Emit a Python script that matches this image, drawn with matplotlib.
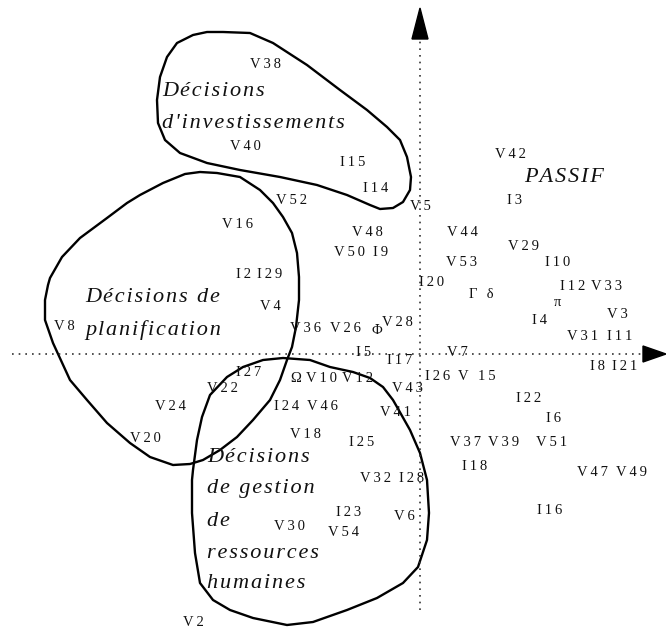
import matplotlib
matplotlib.use("Agg")
import matplotlib.pyplot as plt
from matplotlib.patches import Polygon

# point labels (positions in picture units, y downwards)
labels = ["V38", "V40", "I15", "I14", "V52", "V42", "I3", "V5",
          "V16", "V48", "V50", "I9", "I2", "I29", "V44", "V53", "V29", "I10",
          "I20", "Γ δ", "I12", "V33", "π", "V3", "I4", "V4", "V8",
          "V36", "V26", "Φ", "V28", "V31", "I11", "I5", "I17", "V7",
          "I8", "I21", "I27", "Ω", "V10", "V12", "I26", "V 15", "V22", "V43",
          "I22", "V24", "I24", "V46", "V41", "I6", "V20", "V18", "I25",
          "V37", "V39", "V51", "I18", "V47", "V49", "V32", "I28",
          "I23", "V6", "V30", "V54", "I16", "V2"]
lx = [265, 245, 353, 376, 292, 510, 515, 420,
      238, 367, 350, 381, 244, 270, 462, 462, 523, 558,
      432, 481, 573, 607, 557, 617, 540, 270, 64,
      305, 345, 377, 397, 583, 620, 364, 400, 457,
      597, 625, 249, 296, 322, 358, 438, 477, 222, 408,
      529, 170, 287, 322, 396, 553, 145, 305, 362,
      465, 504, 552, 475, 592, 632, 375, 412,
      349, 404, 289, 343, 550, 193]
ly = [65, 147, 163, 188, 200, 155, 200, 207,
      224, 232, 253, 253, 275, 275, 232, 262, 246, 262,
      283, 294, 286, 286, 303, 315, 320, 307, 327,
      328, 328, 330, 323, 336, 336, 352, 360, 352,
      367, 367, 373, 379, 379, 379, 376, 376, 389, 389,
      398, 406, 406, 406, 413, 419, 438, 434, 443,
      443, 443, 443, 467, 472, 472, 479, 479,
      512, 517, 526, 533, 510, 623]

# group names (italic)
groups = ["Décisions", "d'investissements", "Décisions de", "planification",
          "Décisions", "de gestion", "de", "ressources", "humaines", "PASSIF"]
gx = [162, 162, 85, 85, 207, 207, 207, 207, 207, 524]
gy = [92, 124, 298, 330, 457, 489, 522, 553, 584, 177]

# outlines of the three groups
invest_x = [223, 250, 273, 307, 340, 367, 387, 400, 407, 411, 410, 403, 393, 380,
            370, 347, 317, 280, 240, 207, 180, 165, 158, 157, 160, 167, 177, 193, 207]
invest_y = [32, 33, 43, 65, 90, 110, 127, 140, 157, 177, 190, 202, 208, 209,
            205, 195, 185, 177, 170, 163, 153, 140, 123, 100, 77, 57, 43, 35, 32]

plan_x = [200, 217, 240, 260, 273, 283, 292, 297, 299, 299, 296, 292, 287, 280,
          270, 253, 237, 220, 203, 190, 173, 150, 130, 107, 87, 70, 53, 45, 45,
          48, 50, 62, 80, 107, 127, 140, 163, 185]
plan_y = [172, 173, 177, 190, 203, 217, 233, 253, 277, 300, 327, 347, 360, 380,
          400, 420, 437, 450, 460, 464, 465, 457, 443, 423, 400, 380, 343, 320, 300,
          285, 278, 257, 238, 218, 203, 195, 183, 174]

rh_x = [283, 310, 330, 353, 370, 383, 393, 397, 410, 420, 427, 429, 427, 418,
        403, 377, 347, 313, 287, 253, 230, 213, 200, 195, 192, 192, 193, 197,
        202, 210, 227, 243, 263]
rh_y = [358, 360, 367, 372, 378, 387, 400, 407, 430, 453, 480, 513, 540, 567,
        583, 598, 610, 622, 625, 618, 610, 600, 583, 553, 513, 480, 470, 440,
        417, 395, 377, 367, 360]

W, H = 666, 631
x_axis = (12, 643, 354)   # start, end, level
y_axis = (610, 40, 420)
FONT = ["Liberation Serif", "DejaVu Serif"]


def spaced(s, gap):
    # the original text is set with wide letter spacing
    return gap.join(s)


fig = plt.figure(figsize=(W / 100, H / 100), dpi=100)
ax = fig.add_axes([0, 0, 1, 1])
ax.set_xlim(0, W)
ax.set_ylim(H, 0)
ax.axis("off")

# dotted axes with arrow heads
ax.plot([x_axis[0], x_axis[1]], [x_axis[2], x_axis[2]], color="#333333",
        lw=1.2, ls=(0, (1, 3.0)))
ax.plot([y_axis[2], y_axis[2]], [y_axis[0], y_axis[1]], color="#333333",
        lw=1.2, ls=(0, (1, 3.0)))
ax.add_patch(Polygon([(x_axis[1], x_axis[2] - 8), (W, x_axis[2]), (x_axis[1], x_axis[2] + 8)],
                     closed=True, color="black"))
ax.add_patch(Polygon([(y_axis[2] - 8, y_axis[1] - 1), (y_axis[2], 8), (y_axis[2] + 8, y_axis[1] - 1)],
                     closed=True, color="black"))

for xs, ys in [(invest_x, invest_y), (plan_x, plan_y), (rh_x, rh_y)]:
    ax.add_patch(Polygon(list(zip(xs, ys)), closed=True, fill=False,
                         edgecolor="black", lw=1.7, joinstyle="round"))

for t, x, y in zip(labels, lx, ly):
    ax.text(x, y, spaced(t, "\u2009"), ha="center", va="center", fontsize=10.5,
            family=FONT, color="#111111")

for t, x, y in zip(groups, gx, gy):
    ax.text(x, y, spaced(t, "\u200a"), ha="left", va="center", fontsize=16,
            style="italic", family=FONT, color="#111111")

fig.savefig("out.png", dpi=100)
